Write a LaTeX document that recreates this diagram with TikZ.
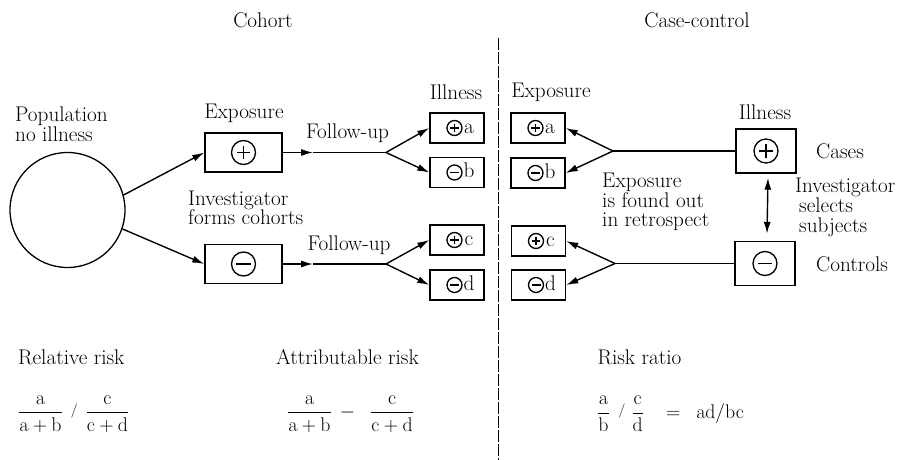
\RequirePackage{fix-cm}
\documentclass[tikz,border=0pt]{standalone}
\usepackage{amsmath}
\usetikzlibrary{arrows.meta}
\newcommand\txtsize{\fontsize{21.2}{19.5}\selectfont}
\newcommand\mathsize{\fontsize{19.8}{19.5}\selectfont}
% small raised slash used between fractions
\newcommand\rslash{\mathord{\raisebox{3.5pt}{$\scriptstyle/$}}}
\tikzset{
  every node/.style={font=\txtsize, inner sep=0pt},
  conn/.style={line width=1.4pt},
  arr/.style={conn, -{Latex[length=12pt,width=7pt]}},
  darr/.style={conn, {Latex[length=12pt,width=7pt]}-{Latex[length=12pt,width=7pt]}},
  symline/.style={line width=1.3pt},
  bigbox/.style={draw, line width=1.4pt, minimum width=77pt, minimum height=39pt},
  illbox/.style={draw, line width=1.4pt, minimum width=60pt, minimum height=44pt},
  cell/.style={draw, line width=1.4pt, minimum width=54pt, minimum height=30pt},
  divider/.style={line width=1pt, dash pattern=on 12pt off 2pt},
  pics/sigplus/.style={code={
    \draw[symline] (0,0) circle[radius=#1];
    \draw[symline] (-0.55*#1,0) -- (0.55*#1,0) (0,-0.55*#1) -- (0,0.55*#1);}},
  pics/sigminus/.style={code={
    \draw[symline] (0,0) circle[radius=#1];
    \draw[symline] (-0.6*#1,0) -- (0.6*#1,0);}},
}
% small outcome cell: name, x, y, sign pic, letter
\newcommand\cellbox[5]{%
  \node[cell] (#1) at (#2,#3) {};
  \pic at ([xshift=-2.5pt]#1.center) {#4=7.5};
  \node[anchor=base] at ([xshift=12pt,yshift=-5pt]#1.center) {#5};
}
\begin{document}
\begin{tikzpicture}[x=1pt,y=-1pt]
\useasboundingbox (0,0) rectangle (903,460);

% headings and divider
\node (cohort) at (263,20) {Cohort};
\node (casectl) at (697,20) {Case-control};
\draw[divider] (498,38) -- (498,460);

% ---------------- cohort side ----------------
\node[draw, circle, minimum size=115pt, line width=1.3pt] (pop) at (67.5,210) {};
\node[anchor=west, align=left] (poplab) at (15,124) {Population\\no illness};

\node[bigbox] (e1) at (243.5,152.5) {};
\pic at (e1.center) {sigplus=12};
\node[bigbox] (e2) at (243.5,264) {};
\pic at (e2.center) {sigminus=12};
\node (explab) at (244,113) {Exposure};
\node[anchor=west, align=left] (invlab) at (188,208) {Investigator\\forms cohorts};

\draw[arr] (pop.15) -- (e1.west);
\draw[arr] (pop.-19) -- (e2.west);

\coordinate (m1) at (313,152.5);
\coordinate (br1) at (386,152.5);
\coordinate (m2) at (313,264);
\coordinate (br2) at (386,264);
\draw[arr] (e1.east) -- (m1);
\draw[conn] (m1) -- (br1);
\draw[arr] (e2.east) -- (m2);
\draw[conn] (m2) -- (br2);
\node (fu1) at (347.5,133) {Follow-up};
\node (fu2) at (349,245) {Follow-up};

\node (illlab) at (456,92) {Illness};
\cellbox{ia}{457}{128}{sigplus}{a}
\cellbox{ib}{457}{172.5}{sigminus}{b}
\cellbox{ic}{457}{240}{sigplus}{c}
\cellbox{id}{457}{285}{sigminus}{d}
\draw[arr] (br1) -- (ia.west);
\draw[arr] (br1) -- (ib.west);
\draw[arr] (br2) -- (ic.west);
\draw[arr] (br2) -- (id.west);

% ---------------- case-control side ----------------
\node (xlab) at (551,92) {Exposure};
\cellbox{xa}{538}{128}{sigplus}{a}
\cellbox{xb}{538}{173}{sigminus}{b}
\cellbox{xc}{538.5}{241}{sigplus}{c}
\cellbox{xd}{538.5}{285}{sigminus}{d}

\node[illbox] (ill1) at (766,151) {};
\pic at (ill1.center) {sigplus=12};
\node[illbox] (ill2) at (765,263.5) {};
\pic at (ill2.center) {sigminus=12};
\node (ill1lab) at (765,112) {Illness};
\node[anchor=west] (cases) at (816,151) {Cases};
\node[anchor=west] (controls) at (816,264) {Controls};
\node[anchor=west, align=left, font=\fontsize{21.2}{20}\selectfont] (sellab) at (795,207)
  {Investigator\\\hspace{4pt}selects\\\hspace{4pt}subjects};
\node[anchor=west, align=left] (retro) at (602,202) {Exposure\\is found out\\in retrospect};

\coordinate (br3) at (613,151);
\coordinate (br4) at (615,263.5);
\draw[conn] (br3) -- (ill1.west);
\draw[arr] (br3) -- (xa.east);
\draw[arr] (br3) -- (xb.east);
\draw[conn] (br4) -- (ill2.west);
\draw[arr] (br4) -- (xc.east);
\draw[arr] (br4) -- (xd.east);
\draw[darr] ([xshift=2pt,yshift=-4pt]ill1.south) -- ([xshift=2pt,yshift=7pt]ill2.north);

% ---------------- measures ----------------
\node[anchor=west] (rrlab) at (18,357) {Relative risk};
\node (arlab) at (347.5,357) {Attributable risk};
\node (rtlab) at (639.5,357) {Risk ratio};
\node[anchor=west, font=\mathsize] (rrf) at (18,414)
  {$\dfrac{\mathrm{a}}{\mathrm{a}+\mathrm{b}}\hspace{8pt}\rslash\hspace{8pt}\dfrac{\mathrm{c}}{\mathrm{c}+\mathrm{d}}$};
\node[anchor=west, font=\mathsize] (arf) at (287,414)
  {$\dfrac{\mathrm{a}}{\mathrm{a}+\mathrm{b}}\hspace{8pt}\mathord{-}\hspace{15pt}\dfrac{\mathrm{c}}{\mathrm{c}+\mathrm{d}}$};
\node[anchor=west, font=\mathsize] (rtf) at (597,414)
  {$\dfrac{\mathrm{a}}{\mathrm{b}}\hspace{9pt}\rslash\hspace{6pt}\dfrac{\mathrm{c}}{\mathrm{d}}\hspace{22pt}\mathord{=}\hspace{16pt}\mathrm{ad/bc}$};
\end{tikzpicture}
\end{document}
